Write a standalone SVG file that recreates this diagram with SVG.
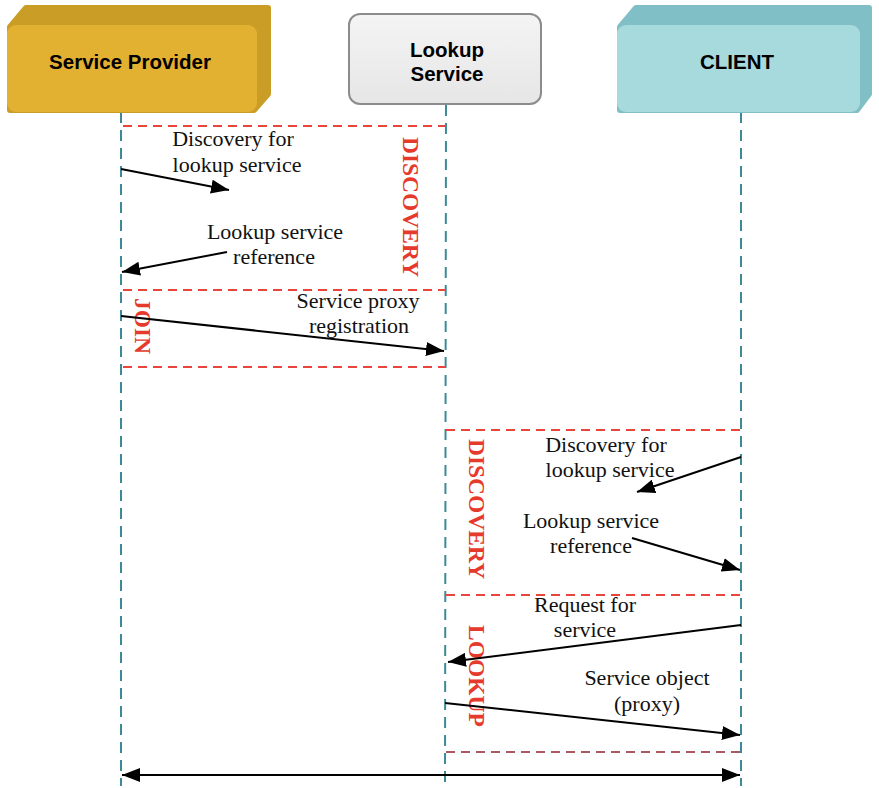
<svg xmlns="http://www.w3.org/2000/svg" width="879" height="788" viewBox="0 0 879 788">
  <defs>
    <marker id="arrowBig" viewBox="0 0 18 14" refX="18" refY="7" markerWidth="18" markerHeight="14" orient="auto-start-reverse" markerUnits="userSpaceOnUse">
      <path d="M0,0 L18,7 L0,14 z" fill="#000"/>
    </marker>
    <linearGradient id="lookupFill" x1="0" y1="0" x2="0" y2="1">
      <stop offset="0" stop-color="#f4f4f4"/>
      <stop offset="1" stop-color="#e6e6e6"/>
    </linearGradient>
  </defs>
  <style>
    .head { font-family: "Liberation Sans", Arial, sans-serif; font-weight: bold; font-size: 20.5px; fill: #000; text-anchor: middle; }
    .lbl { font-family: "Liberation Serif", "Times New Roman", serif; font-size: 22px; fill: #111; text-anchor: middle; }
    .phase { font-family: "Liberation Serif", "Times New Roman", serif; font-weight: bold; font-size: 23.5px; fill: #e53a2c; text-anchor: middle; }
    .life { stroke: #3d8a96; stroke-width: 2; stroke-dasharray: 11 7; fill: none; }
    .zone { stroke: #e8453c; stroke-width: 1.8; stroke-dasharray: 9 6; fill: none; }
    .msg { stroke: #000; stroke-width: 2; fill: none; marker-end: url(#arrowBig); }
  </style>

  <rect width="879" height="788" fill="#fff"/>

  <!-- lifelines -->
  <g id="lifelines">
    <line class="life" x1="121" y1="112" x2="121" y2="786"/>
    <line class="life" x1="446" y1="105" x2="445" y2="786"/>
    <line class="life" x1="741" y1="112" x2="741" y2="786"/>
  </g>

  <!-- phase zones -->
  <g id="zones">
    <line class="zone" x1="123" y1="126" x2="446" y2="126"/>
    <line class="zone" x1="123" y1="290" x2="446" y2="290"/>
    <line class="zone" x1="123" y1="367" x2="446" y2="367"/>
    <line class="zone" x1="446" y1="430" x2="741" y2="430"/>
    <line class="zone" x1="446" y1="595" x2="741" y2="595"/>
    <line class="zone" x1="446" y1="752" x2="741" y2="752" style="stroke:#a85a5e"/>
    <text class="phase" transform="translate(411,207) rotate(90)" dy="8">DISCOVERY</text>
    <text class="phase" transform="translate(143,326) rotate(90)" dy="8">JOIN</text>
    <text class="phase" transform="translate(477,509) rotate(90)" dy="8">DISCOVERY</text>
    <text class="phase" transform="translate(477,676) rotate(90)" dy="8">LOOKUP</text>
  </g>

  <!-- nodes -->
  <g id="service-provider">
    <path d="M10,27 L26,8 L268,8 L268,94 L254,110 L10,110 z" fill="#c99d26" stroke="#c99d26" stroke-width="6" stroke-linejoin="round"/>
    <rect x="7" y="25" width="250" height="87" rx="9" fill="#e3b131"/>
    <text class="head" x="130" y="69">Service Provider</text>
  </g>
  <g id="lookup-service">
    <rect x="349" y="14" width="192" height="90" rx="11" fill="url(#lookupFill)" stroke="#8c8c8c" stroke-width="2"/>
    <text class="head" x="447" y="57">Lookup</text>
    <text class="head" x="447" y="81">Service</text>
  </g>
  <g id="client">
    <path d="M620,27 L636,8 L869,8 L869,94 L857,110 L620,110 z" fill="#80bfc5" stroke="#80bfc5" stroke-width="6" stroke-linejoin="round"/>
    <rect x="617" y="25" width="243" height="87" rx="9" fill="#a7dadd"/>
    <text class="head" x="737" y="69">CLIENT</text>
  </g>

  <!-- messages -->
  <g id="connectors">
    <line class="msg" x1="121" y1="169" x2="229" y2="190"/>
    <line class="msg" x1="227" y1="252" x2="122" y2="272"/>
    <line class="msg" x1="121" y1="316" x2="444" y2="351"/>
    <line class="msg" x1="741" y1="457" x2="637" y2="492"/>
    <line class="msg" x1="632" y1="538" x2="740" y2="570"/>
    <line class="msg" x1="741" y1="625" x2="448" y2="662"/>
    <line class="msg" x1="445" y1="703" x2="740" y2="735"/>
    <line x1="122" y1="775" x2="740" y2="775" stroke="#000" stroke-width="2" marker-start="url(#arrowBig)" marker-end="url(#arrowBig)"/>
  </g>

  <!-- message labels -->
  <g id="labels">
    <text class="lbl" x="233" y="146">Discovery for</text>
    <text class="lbl" x="237" y="172">lookup service</text>
    <text class="lbl" x="275" y="239">Lookup service</text>
    <text class="lbl" x="274" y="264">reference</text>
    <text class="lbl" x="358" y="308">Service proxy</text>
    <text class="lbl" x="359" y="333">registration</text>
    <text class="lbl" x="606" y="452">Discovery for</text>
    <text class="lbl" x="610" y="477">lookup service</text>
    <text class="lbl" x="591" y="528">Lookup service</text>
    <text class="lbl" x="591" y="553">reference</text>
    <text class="lbl" x="585" y="612">Request for</text>
    <text class="lbl" x="585" y="637">service</text>
    <text class="lbl" x="647" y="685">Service object</text>
    <text class="lbl" x="647" y="711">(proxy)</text>
  </g>
</svg>
